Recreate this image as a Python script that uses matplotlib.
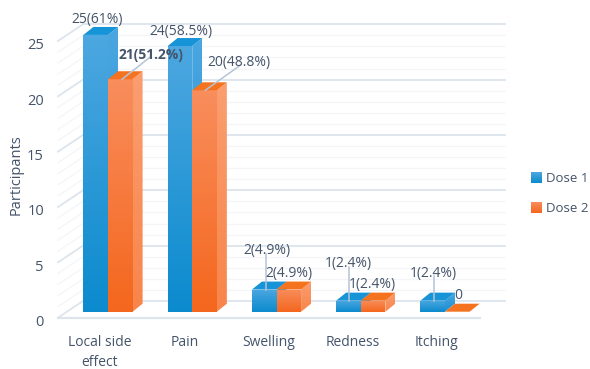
#!/usr/bin/env python3
"""Grouped pseudo-3D bars of local side effects after dose 1 and dose 2."""

import matplotlib
matplotlib.use("Agg")
import matplotlib.pyplot as plt
import numpy as np
from matplotlib.colors import LinearSegmentedColormap
from matplotlib.patches import Polygon

categories = ["Local side\neffect", "Pain", "Swelling", "Redness", "Itching"]
dose1 = [25, 24, 2, 1, 1]
dose2 = [21, 20, 2, 1, 0]
dose1_labels = ["25(61%)", "24(58.5%)", "2(4.9%)", "1(2.4%)", "1(2.4%)"]
dose2_labels = ["21(51.2%)", "20(48.8%)", "2(4.9%)", "1(2.4%)", "0"]
y_ticks = [0, 5, 10, 15, 20, 25]

TEXT = "#44546A"
LEADER = "#B4C4D6"
GRID_MAJOR = "#DDE4EC"
GRID_MINOR = "#F3F5F8"
FONT = "Open Sans"

# scale of the data axes, pixels per unit
PX_X = 84.25
PX_Y = 11.07
X0 = 108.0   # pixel of the first group centre
Y0 = 311.7   # pixel of value 0 on the bar plane
W, H = 590, 369

BAR_W = 24.6 / PX_X
DEPTH_X = 10.0 / PX_X
DEPTH_Y = 8.0 / PX_Y
BACK_Y = 10.7 / PX_Y
FRONT_Y = -6.0 / PX_Y


def xpix(px):
    return (px - X0) / PX_X


def ypix(px):
    return (Y0 - px) / PX_Y


def at_bar(i, value, off_x, off_y):
    """Data position a pixel offset away from the top centre of a group."""
    return i + off_x / PX_X, value - off_y / PX_Y


def gradient_face(ax, pts, top, bottom, z):
    """Fill a polygon with a vertical gradient clipped to its outline."""
    cmap = LinearSegmentedColormap.from_list("face", [top, bottom])
    pts = np.array(pts)
    poly = Polygon(pts, closed=True, transform=ax.transData, fc="none", ec="none")
    ax.add_patch(poly)
    grad = np.linspace(0, 1, 64).reshape(-1, 1)
    im = ax.imshow(grad, cmap=cmap, aspect="auto", origin="upper", zorder=z,
                   extent=(pts[:, 0].min(), pts[:, 0].max(), pts[:, 1].min(), pts[:, 1].max()))
    im.set_clip_path(poly)


def draw_bar(ax, left, value, colors, z):
    right = left + BAR_W
    if value > 0:
        gradient_face(ax, [(right, 0), (right + DEPTH_X, DEPTH_Y), (right + DEPTH_X, value + DEPTH_Y), (right, value)],
                      colors["side_top"], colors["side_bottom"], z)
        gradient_face(ax, [(left, 0), (right, 0), (right, value), (left, value)],
                      colors["front_top"], colors["front_bottom"], z + 0.1)
    top = Polygon([(left, value), (right, value), (right + DEPTH_X, value + DEPTH_Y), (left + DEPTH_X, value + DEPTH_Y)],
                  closed=True, fc=colors["cap"], ec="none", zorder=z + 0.2)
    ax.add_patch(top)


BLUE = {"front_top": "#4DA7E0", "front_bottom": "#0B8BCE", "side_top": "#4AA6E0",
        "side_bottom": "#1E90D2", "cap": "#1794D8"}
ORANGE = {"front_top": "#F98D5C", "front_bottom": "#F4671E", "side_top": "#FA9E70",
          "side_bottom": "#F8854A", "cap": "#F5731F"}

fig = plt.figure(figsize=(W / 100, H / 100), dpi=100)
ax = fig.add_axes([0, 0, 1, 1])

# grid floor and back wall, one line per participant
for v in range(0, 26):
    major = v % 5 == 0
    color = GRID_MAJOR if major else GRID_MINOR
    lw = 1.3 if major else 0.9
    ax.plot([xpix(83), xpix(505)], [v + BACK_Y, v + BACK_Y], color=color, lw=lw, zorder=1)
    ax.plot([xpix(58), xpix(83)], [v + FRONT_Y, v + BACK_Y], color=color, lw=lw, zorder=1)
ax.plot([xpix(58), xpix(480)], [FRONT_Y, FRONT_Y], color=GRID_MAJOR, lw=1.6, zorder=1)

for i, (a, b) in enumerate(zip(dose1, dose2)):
    draw_bar(ax, i - BAR_W, a, BLUE, 2)
    draw_bar(ax, i, b, ORANGE, 3)

# y axis and category text
for v in y_ticks:
    ax.text(xpix(44), v - 11.0 / PX_Y, str(v), color=TEXT, fontsize=10.5, family=FONT, ha="right", va="center")
ax.text(xpix(16), ypix(175), "Participants", color=TEXT, fontsize=10.5, family=FONT,
        rotation=90, ha="center", va="center")
for i, name in enumerate(categories):
    ax.text(i - 8.0 / PX_X, ypix(335.5), name, color=TEXT, fontsize=10, family=FONT,
            ha="center", va="top", linespacing=1.4)

# value labels, offsets measured from the top of each bar
offsets1 = [(-11, -15), (-11, -15), (-10, -39), (-12, -37), (-12, -27)]
offsets2 = [(43, -24), (47, -28), (12, -16), (12, -16), (13, -16)]
for i in range(len(categories)):
    x, y = at_bar(i, dose1[i], *offsets1[i])
    ax.text(x, y, dose1_labels[i], color=TEXT, fontsize=10, family=FONT,
            ha="center", va="center", zorder=6)
    x, y = at_bar(i, dose2[i], *offsets2[i])
    ax.text(x, y, dose2_labels[i], color=TEXT, fontsize=10, family=FONT,
            ha="center", va="center", zorder=6, fontweight="bold" if i == 0 else "normal")

# leader lines from the labels down to the bars
for i, value, start, end in [(0, dose2[0], (14, 0), (42, -22)), (1, dose2[1], (13, 0), (48, -25)),
                             (2, dose1[2], (-11, 0), (-11, -36)), (3, dose1[3], (-12, 0), (-12, -34)),
                             (4, dose1[4], (-11, 0), (-11, -25))]:
    xa, ya = at_bar(i, value, *start)
    xb, yb = at_bar(i, value, *end)
    ax.plot([xa, xb], [ya, yb], color=LEADER, lw=1.1, zorder=5)

# legend
for y_px, label, color_top, color_bottom in [(172, "Dose 1", "#4DA7E0", "#0B8BCE"), (202, "Dose 2", "#F98D5C", "#F4671E")]:
    gradient_face(ax, [(xpix(531), ypix(y_px + 11)), (xpix(542), ypix(y_px + 11)), (xpix(542), ypix(y_px)), (xpix(531), ypix(y_px))],
                  color_top, color_bottom, 3)
    ax.text(xpix(546), ypix(y_px + 6.5), label, color=TEXT, fontsize=9.5, family=FONT, ha="left", va="center")

ax.set_xlim(xpix(0), xpix(W))
ax.set_ylim(ypix(H), ypix(0))
ax.axis("off")

fig.savefig("out.png", dpi=100)
